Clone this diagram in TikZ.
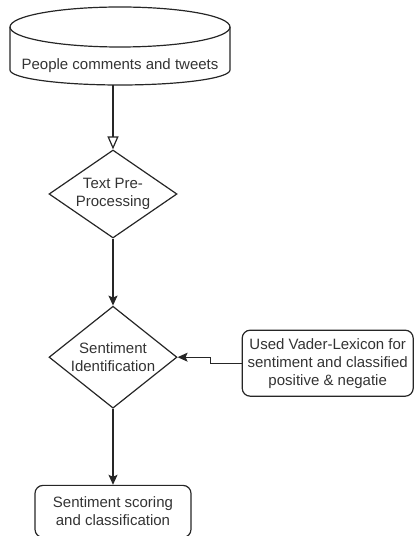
\documentclass[tikz,border=0pt]{standalone}
\usepackage{fontspec}
\setmainfont{Liberation Sans}
\usetikzlibrary{arrows.meta,positioning,shapes.geometric}

\begin{document}
\begin{tikzpicture}[x=1pt, y=1pt, node distance=66pt, every node/.style={font=\fontsize{15}{18}\selectfont, text=black!80, align=center}, ln/.style={draw=black!85, line width=1.2pt}, dia/.style={ln, diamond, inner sep=0pt, minimum width=128pt}, st/.style={ln, rounded corners=8pt}, arr/.style={ln, -{Stealth[length=10pt, width=9pt, inset=2pt]}}, oarr/.style={ln, -{Triangle[open, length=13pt, width=11pt]}}]
\useasboundingbox (0,0) rectangle (415,536);
\node[dia, aspect=1.45, minimum height=88pt] (pre) at (113,342) {Text Pre-\\Processing};
\node (src) at (120,470) {People comments and tweets};
% drum round the source text
\draw[ln] (src.center) ++(0,39) ellipse[x radius=110, y radius=20];
\draw[ln] (src.center) ++(-110,39) -- ++(0,-43) arc[start angle=180, end angle=360, x radius=110, y radius=15] -- ++(0,43);
\coordinate (srcbot) at ([yshift=-19pt]src.center);
\node[dia, aspect=1.25, minimum height=102pt, below=67pt of pre] (ident) {Sentiment\\Identification};
\node[st, minimum width=171pt, minimum height=66pt, right=64pt of ident, yshift=-6pt] (vader) {Used Vader-Lexicon for\\sentiment and classified\\positive \& negatie};
\node[st, minimum width=156pt, minimum height=52pt, below=76pt of ident] (score) {Sentiment scoring\\and classification};
\draw[oarr] (pre.north |- srcbot) -- (pre); \draw[arr] (pre)--(ident); \draw[arr] (vader.west) -- ++(-31,0) |- (ident.east); \draw[arr] (ident)--(score);
\end{tikzpicture}
\end{document}
